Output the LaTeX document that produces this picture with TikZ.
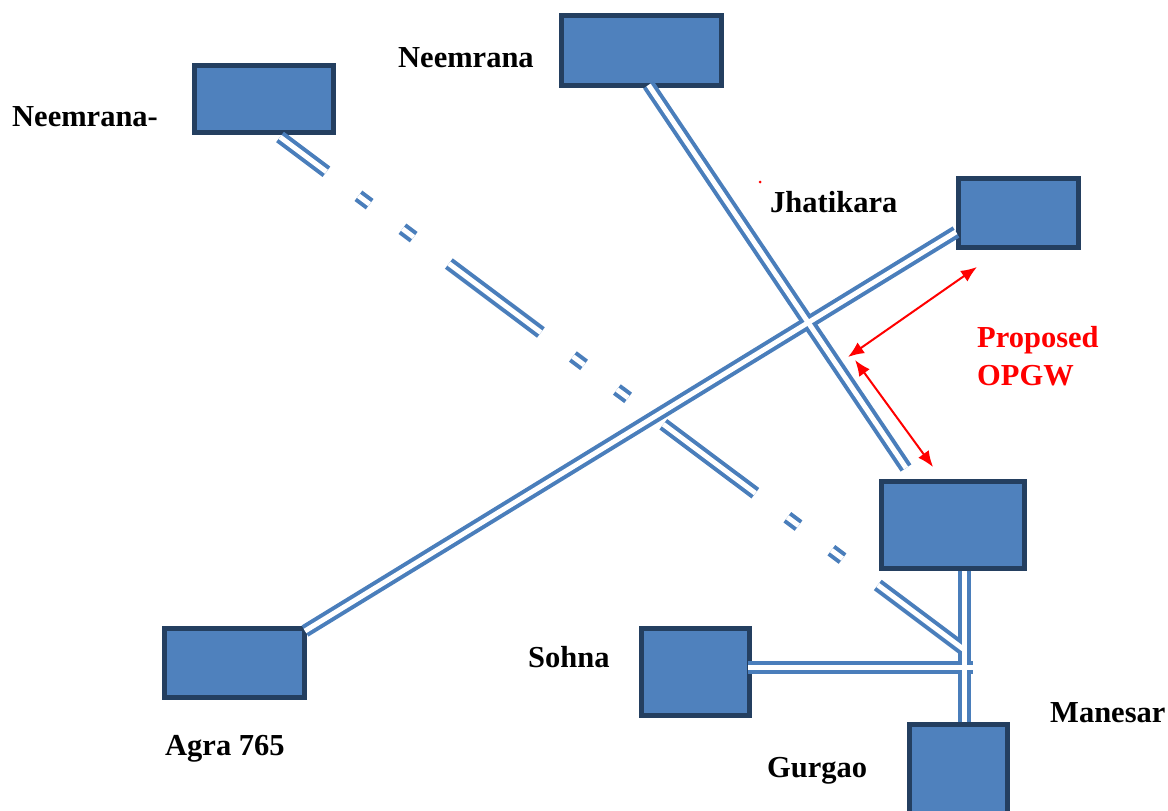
\documentclass[tikz,border=0pt]{standalone}
\usepackage{fontspec}
\setmainfont{Liberation Serif}
\usetikzlibrary{arrows.meta,calc}
\definecolor{boxblue}{HTML}{4F81BD}
\definecolor{boxedge}{HTML}{243F60}
\definecolor{wireblue}{HTML}{4A7EBB}
\def\lnNeem{([xshift=7pt,yshift=3pt]neemB.south) -- ([xshift=-47pt,yshift=11pt]manesar.north)}
\def\lnAgra{([yshift=-19pt]jhat.west) -- ([xshift=-2pt,yshift=-5pt]agra.north east)}
\def\lnSohna{([xshift=-4pt,yshift=4.5pt]sohna.east) -- ([xshift=8.5pt]jn)}
\def\lnGurgao{([xshift=11.5pt]manesar.south) -- ([xshift=6pt]gurgao.north)}
\def\lnDash{([xshift=16pt,yshift=-2pt]neemA.south) -- ([yshift=17.5pt]jn)}
\tikzset{
  stationbox/.style={draw=boxedge, fill=boxblue, line width=5pt, inner sep=0pt},
  stationlabel/.style={font=\fontsize{30.5}{36}\selectfont\bfseries, anchor=base west, inner sep=0pt},
  dashdot/.style={dash pattern=on 115pt off 40pt on 14pt off 41pt on 14pt off 44pt, dash phase=57pt},
  opgw/.style={red, line width=2pt, {Latex[length=16pt,width=13pt]}-{Latex[length=16pt,width=13pt]}}
}

\begin{document}
\begin{tikzpicture}[x=1pt,y=-1pt]
    \useasboundingbox (0,0) rectangle (1168,811);

    \node[stationbox, minimum width=139pt, minimum height=67pt] (neemA) at (264,99) {};
    \node[stationbox, minimum width=160pt, minimum height=70pt] (neemB) at (641.5,50.5) {};
    \node[stationbox, minimum width=120pt, minimum height=69pt] (jhat) at (1018.5,213) {};
    \node[stationbox, minimum width=143pt, minimum height=87pt] (manesar) at (953,525) {};
    \node[stationbox, minimum width=108pt, minimum height=87pt] (sohna) at (695.5,672) {};
    \node[stationbox, minimum width=98pt, minimum height=93pt] (gurgao) at (958.5,771) {};
    \node[stationbox, minimum width=140pt, minimum height=69pt] (agra) at (234.5,663) {};
    \coordinate (jn) at (964.5,667.5);
    \coordinate (opgwA) at (848,357);
    \coordinate (opgwB) at (855,360);

    \begin{scope}[wireblue, line width=13pt]
        \draw \lnNeem;
        \draw \lnAgra;
        \draw \lnSohna;
        \draw \lnGurgao;
        \draw[dashdot] \lnDash;
    \end{scope}
    \begin{scope}[white, line width=5pt]
        \draw \lnNeem;
        \draw \lnAgra;
        \draw \lnSohna;
        \draw \lnGurgao;
        \draw[dashdot] \lnDash;
    \end{scope}

    \draw[opgw] (opgwA) -- ([xshift=21pt,yshift=-17pt]jhat.south west);
    \draw[opgw] (opgwB) -- ([xshift=-20pt,yshift=12pt]manesar.north);
    \fill[red] (760,182) circle (1.5pt);

    \node[stationlabel] (tNeemA) at (12,126) {Neemrana-};
    \node[stationlabel] (tNeemB) at (398,67) {Neemrana};
    \node[stationlabel] (tJhat) at (770,212) {Jhatikara};
    \node[stationlabel, text=red] (tProp) at (977,347) {Proposed};
    \node[stationlabel, text=red] (tOpgw) at (977,385) {OPGW};
    \node[stationlabel] (tSohna) at (528,667) {Sohna};
    \node[stationlabel] (tAgra) at (165,755) {Agra 765};
    \node[stationlabel] (tManesar) at (1050,722) {Manesar};
    \node[stationlabel] (tGurgao) at (767,777) {Gurgao};
\end{tikzpicture}
\end{document}
